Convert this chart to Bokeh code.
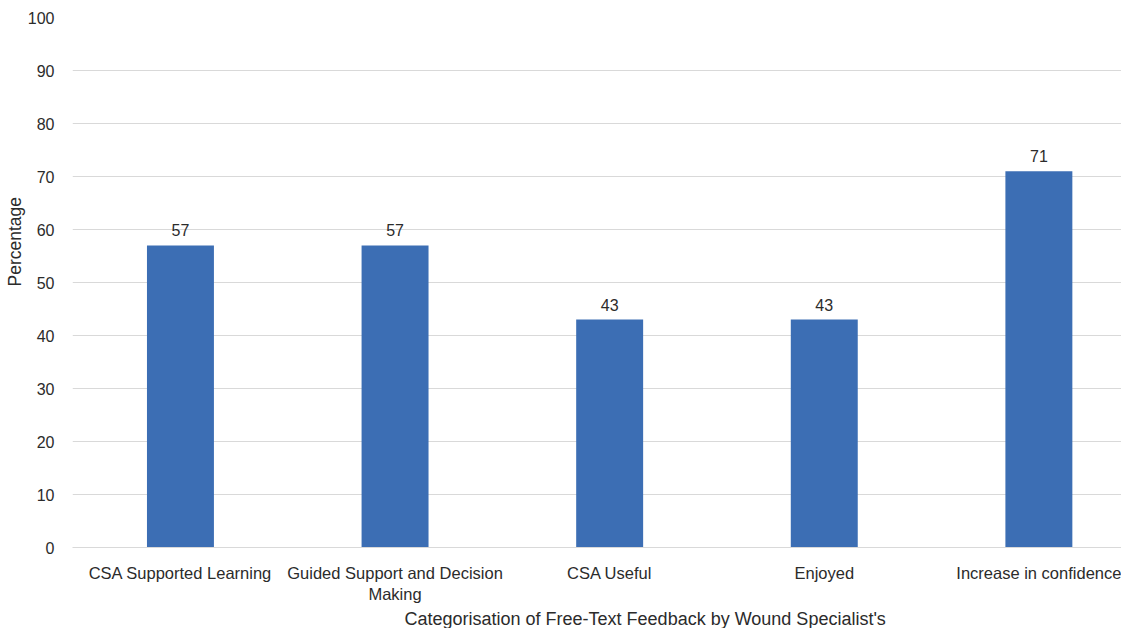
from bokeh.plotting import figure
from bokeh.models import Range1d, FixedTicker, Title
from bokeh.embed import file_html
from bokeh.resources import INLINE
from bokeh.core.properties import value

categories = ["CSA Supported Learning", "Guided Support and Decision\nMaking",
              "CSA Useful", "Enjoyed", "Increase in confidence"]
percentages = [57, 57, 43, 43, 71]
y_ticks = [0, 10, 20, 30, 40, 50, 60, 70, 80, 90, 100]

xs = list(range(len(categories)))
FONT = "Liberation Sans"
TXT = "#2b2b2b"

p = figure(width=1121, height=628, output_backend="svg", toolbar_location=None,
           x_range=Range1d(-0.503, 4.385), y_range=Range1d(0, 100),
           min_border_left=72, min_border_top=17, min_border_right=0, min_border_bottom=80)
p.outline_line_color = None
p.background_fill_color = "white"
p.border_fill_color = "white"

p.vbar(x=xs, top=percentages, width=0.312, color="#3C6EB4", line_color=None)
p.text(x=xs, y=percentages, text=[str(v) for v in percentages], y_offset=-9,
       text_align="center", text_baseline="bottom", text_font=value(FONT),
       text_font_size="16px", text_color=TXT)

p.xgrid.grid_line_color = None
p.ygrid.grid_line_color = "#d9d9d9"
p.yaxis.ticker = FixedTicker(ticks=y_ticks)
p.yaxis.axis_line_color = None
p.yaxis.major_tick_line_color = None
p.yaxis.minor_tick_line_color = None
p.yaxis.major_label_standoff = 12
p.yaxis.major_label_text_font = FONT
p.yaxis.major_label_text_font_size = "16px"
p.yaxis.major_label_text_color = TXT

p.xaxis.ticker = FixedTicker(ticks=xs)
p.xaxis.major_label_overrides = {i: c for i, c in zip(xs, categories)}
p.xaxis.axis_line_color = "#d9d9d9"
p.xaxis.major_tick_line_color = None
p.xaxis.minor_tick_line_color = None
p.xaxis.major_label_standoff = 10
p.xaxis.major_label_text_font = FONT
p.xaxis.major_label_text_font_size = "16.5px"
p.xaxis.major_label_text_color = TXT

p.add_layout(Title(text="Categorisation of Free-Text Feedback by Wound Specialist's",
                   align="left", offset=332, standoff=0, text_font=FONT, text_font_size="18px",
                   text_font_style="normal", text_color=TXT), "below")
p.add_layout(Title(text="Percentage", align="left", offset=261, standoff=0, text_font=FONT,
                   text_font_size="17.5px", text_font_style="normal", text_color=TXT), "left")

open("out.html", "w").write(file_html(p, INLINE))
